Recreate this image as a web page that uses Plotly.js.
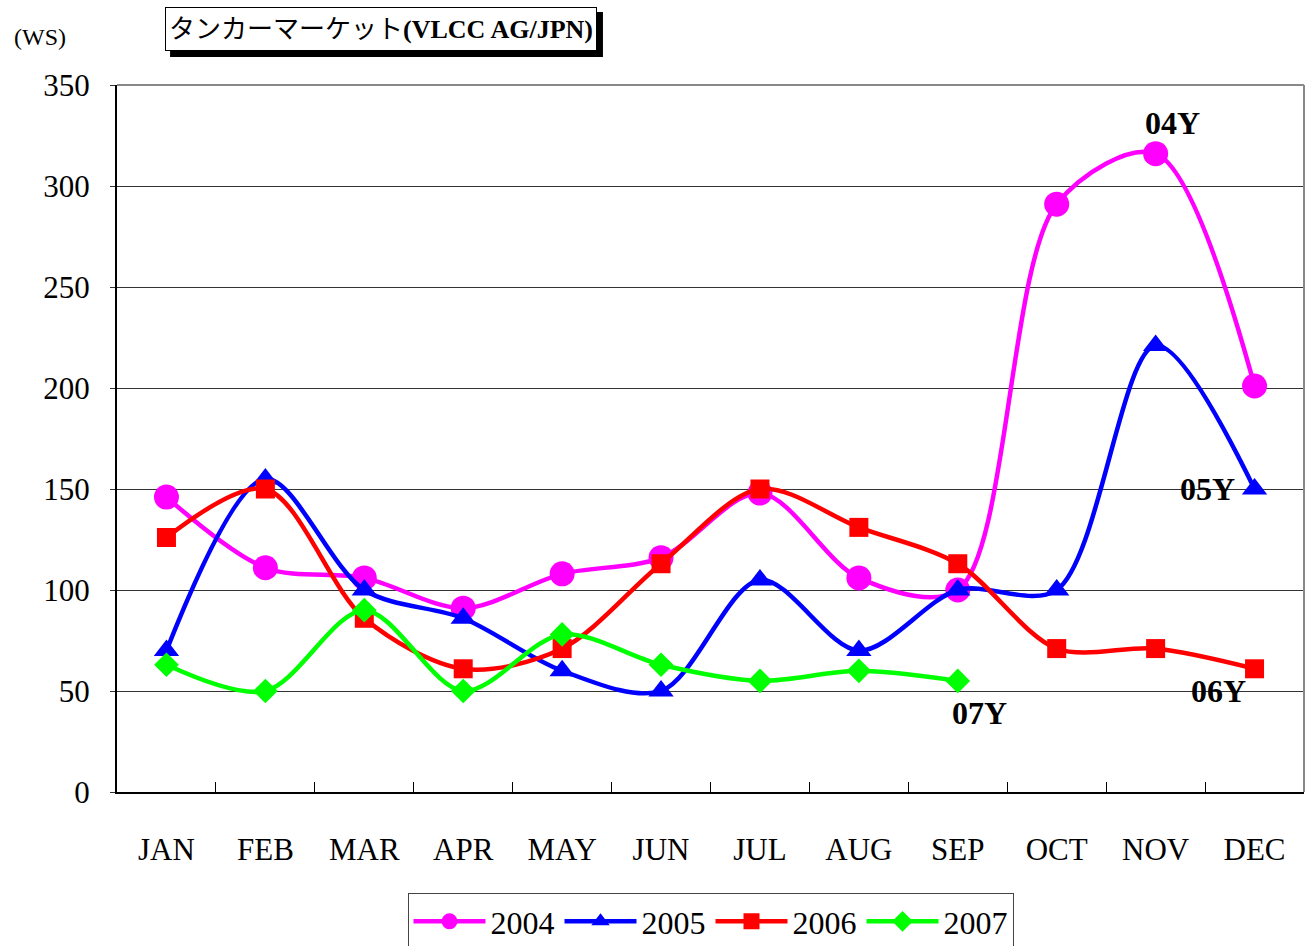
<!DOCTYPE html>
<html>
<head>
<meta charset="utf-8">
<script src="https://cdn.plot.ly/plotly-3.0.1.min.js"></script>
<style>html,body{margin:0;padding:0;background:#fff;overflow:hidden;}#chart{width:1307px;height:946px;}</style>
</head>
<body>
<div id="chart"></div>
<script>
const months = ["JAN","FEB","MAR","APR","MAY","JUN","JUL","AUG","SEP","OCT","NOV","DEC"];
const y2004 = [146, 111, 106, 91, 108, 116, 148, 106, 100, 291, 316, 201];
const y2005 = [70, 155, 100, 86, 60, 50, 105, 70, 100, 100, 221, 150];
const y2006 = [126, 150, 86, 61, 71, 113, 150, 131, 113, 71, 71, 61];
const y2007 = [63, 50, 90, 50, 78, 63, 55, 60, 55];
const seriesNames = ["2004","2005","2006","2007"];
const yTicks = [0, 50, 100, 150, 200, 250, 300, 350];

const serif = "Liberation Serif, Times New Roman, serif";
const jp = "Liberation Serif, Noto Sans CJK JP, serif";

function tr(name, y, color, symbol, size) {
  return {
    x: months.slice(0, y.length), y: y, name: name, type: "scatter", mode: "lines+markers",
    line: {color: color, width: 4.5, shape: "spline", smoothing: 0.9},
    marker: {color: color, symbol: symbol, size: size, line: {width: 0}}
  };
}

const data = [
  tr(seriesNames[0], y2004, "#ff00ff", "circle", 25),
  tr(seriesNames[1], y2005, "#0000ff", "triangle-up", 22),
  tr(seriesNames[2], y2006, "#ff0000", "square", 19),
  tr(seriesNames[3], y2007, "#00ff00", "diamond", 19)
];

const layout = {
  width: 1307, height: 946,
  margin: {l: 117, r: 3, t: 85, b: 154, autoexpand: false},
  paper_bgcolor: "#fff", plot_bgcolor: "#fff",
  showlegend: true,
  legend: {
    orientation: "h", x: 0.5, xanchor: "center", y: -0.1429, yanchor: "top",
    bordercolor: "#444", borderwidth: 1,
    font: {family: serif, size: 32, color: "#000"},
    itemwidth: 72, tracegroupgap: 0
  },
  xaxis: {
    type: "category", categoryorder: "array", categoryarray: months,
    range: [-0.5, 11.5], tickson: "boundaries", ticks: "inside", ticklen: 10, tickcolor: "#000", tickwidth: 1,
    showgrid: false, showline: true, linecolor: "#000", linewidth: 2,
    tickfont: {family: serif, size: 31, color: "#000"}, ticklabelstandoff: 29,
    zeroline: false, fixedrange: true
  },
  yaxis: {
    range: [0, 350], tickvals: yTicks, ticktext: yTicks.map(String),
    showgrid: true, gridcolor: "#333", gridwidth: 1,
    showline: true, linecolor: "#000", linewidth: 2, ticks: "outside", ticklen: 5, tickcolor: "#333", tickwidth: 1,
    tickfont: {family: serif, size: 31, color: "#000"}, ticklabelstandoff: 14,
    zeroline: false, fixedrange: true
  },
  shapes: [
    {type: "line", xref: "paper", yref: "paper", x0: 0, x1: 1, y0: 1, y1: 1, line: {color: "#888", width: 2}},
    {type: "line", xref: "paper", yref: "paper", x0: 1, x1: 1, y0: 0, y1: 1, line: {color: "#888", width: 2}},
    {type: "rect", xref: "paper", yref: "paper", x0: 0.0447, x1: 0.4094, y0: 1.0396, y1: 1.1033, fillcolor: "#000", line: {width: 0}}
  ],
  annotations: [
    {xref: "paper", yref: "paper", x: 0.2224, y: 1.079, xanchor: "center", yanchor: "middle",
     text: "タンカーマーケット<b>(VLCC AG/JPN)</b>", showarrow: false,
     font: {family: jp, size: 26, color: "#000"},
     bgcolor: "#fff", bordercolor: "#000", borderwidth: 1, width: 428, height: 40, borderpad: 1},
    {xref: "paper", yref: "paper", x: -0.0649, y: 1.068, xanchor: "center", yanchor: "middle",
     text: "(WS)", showarrow: false, font: {family: serif, size: 24, color: "#000"}},
    {xref: "x", yref: "y", x: 10.17, y: 331, text: "<b>04Y</b>", showarrow: false, font: {family: serif, size: 32, color: "#000"}},
    {xref: "x", yref: "y", x: 10.52, y: 150, text: "<b>05Y</b>", showarrow: false, font: {family: serif, size: 32, color: "#000"}},
    {xref: "x", yref: "y", x: 10.64, y: 50, text: "<b>06Y</b>", showarrow: false, font: {family: serif, size: 32, color: "#000"}},
    {xref: "x", yref: "y", x: 8.22, y: 39, text: "<b>07Y</b>", showarrow: false, font: {family: serif, size: 32, color: "#000"}}
  ]
};

Plotly.newPlot("chart", data, layout, {displayModeBar: false, staticPlot: true});
</script>
</body>
</html>
